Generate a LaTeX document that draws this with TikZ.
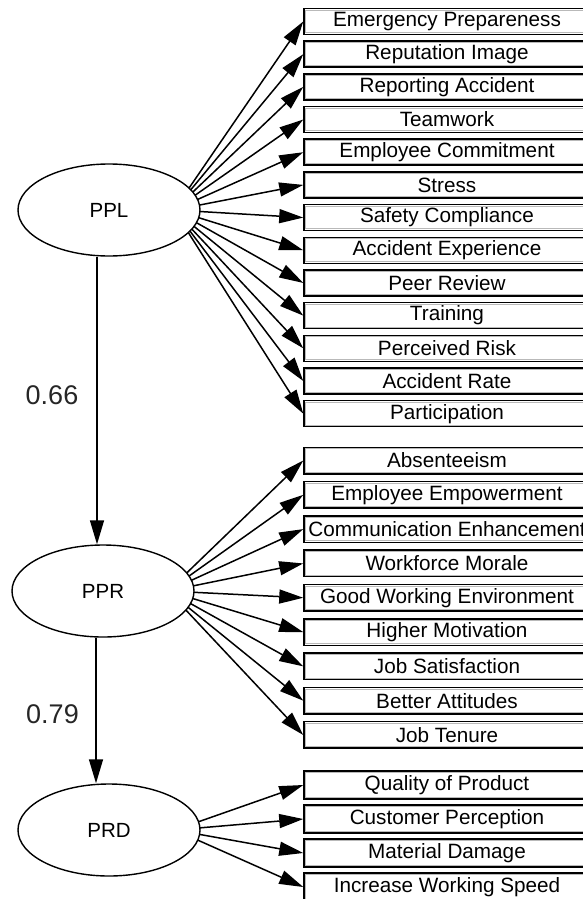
\documentclass[tikz,border=0pt]{standalone}
\usepackage{fontspec}
\setmainfont{Liberation Sans}
\usetikzlibrary{arrows.meta,calc,backgrounds,shapes.geometric}
\begin{document}
\begin{tikzpicture}[x=1pt,y=-1pt,
  lat/.style={ellipse,draw,line width=1.4pt,fill=white,minimum width=182pt,minimum height=92pt,inner sep=0pt,font=\fontsize{20.5}{24}\selectfont},
  box/.style={draw,line width=1.5pt,fill=white,minimum width=286pt,inner sep=0pt,font=\fontsize{20.7}{24}\selectfont,
    path picture={\draw[gray!55,line width=1pt] ($(path picture bounding box.south west)+(1.6pt,1.6pt)$) rectangle ($(path picture bounding box.north east)+(-1.6pt,-1.6pt)$);}},
  arr/.style={line width=1.5pt,-{Triangle[length=24pt,width=14pt]}},
  coef/.style={font=\fontsize{27}{30}\selectfont,text=black!85}]
\useasboundingbox (0,0) rectangle (583,899);
\clip (0,0) rectangle (583,899);
% latent variables
\node[lat] (ppl) at (109,210) {PPL};
\node[lat] (ppr) at (103,591) {PPR};
\node[lat] (prd) at (109,830) {PRD};
% fan origins
\coordinate (pplc) at (174,210);
\coordinate (pprc) at (168,591);
\coordinate (prdc) at (175,830);
\coordinate (lx) at (97,0);
\coordinate (mx) at (96,0);
% indicators
\foreach \t [count=\i from 0] in {Emergency Prepareness,Reputation Image,Reporting Accident,Teamwork,Employee Commitment,Stress,Safety Compliance,Accident Experience,Peer Review,Training,Perceived Risk,Accident Rate,Participation}
  \node[box,minimum height=26pt] (a\i) at (447,{21.5+32.68*\i}) {\t};
\foreach \t [count=\i from 0] in {Absenteeism,Employee Empowerment,Communication Enhancement,Workforce Morale,Good Working Environment,Higher Motivation,Job Satisfaction,Better Attitudes,Job Tenure}
  \node[box,minimum height=26.5pt] (b\i) at (447,{460.5+34.31*\i}) {\t};
\foreach \t [count=\i from 0] in {Quality of Product,Customer Perception,Material Damage,Increase Working Speed}
  \node[box,minimum height=28pt] (c\i) at (447,{785+34*\i}) {\t};
% connectors
\begin{scope}[on background layer]
\foreach \i in {0,...,12} \draw[arr] (pplc) -- (a\i.west);
\foreach \i in {0,...,8} \draw[arr] (pprc) -- (b\i.west);
\foreach \i in {0,...,3} \draw[arr] (prdc) -- (c\i.west);
\end{scope}
\draw[arr] (ppl.south -| lx) -- (ppr.north -| lx);
\draw[arr] (ppr.south -| mx) -- (prd.north -| mx);
% coefficients
\node[coef] (k1) at (52,395) {0.66};
\node[coef] (k2) at (52.5,714) {0.79};
\end{tikzpicture}
\end{document}
